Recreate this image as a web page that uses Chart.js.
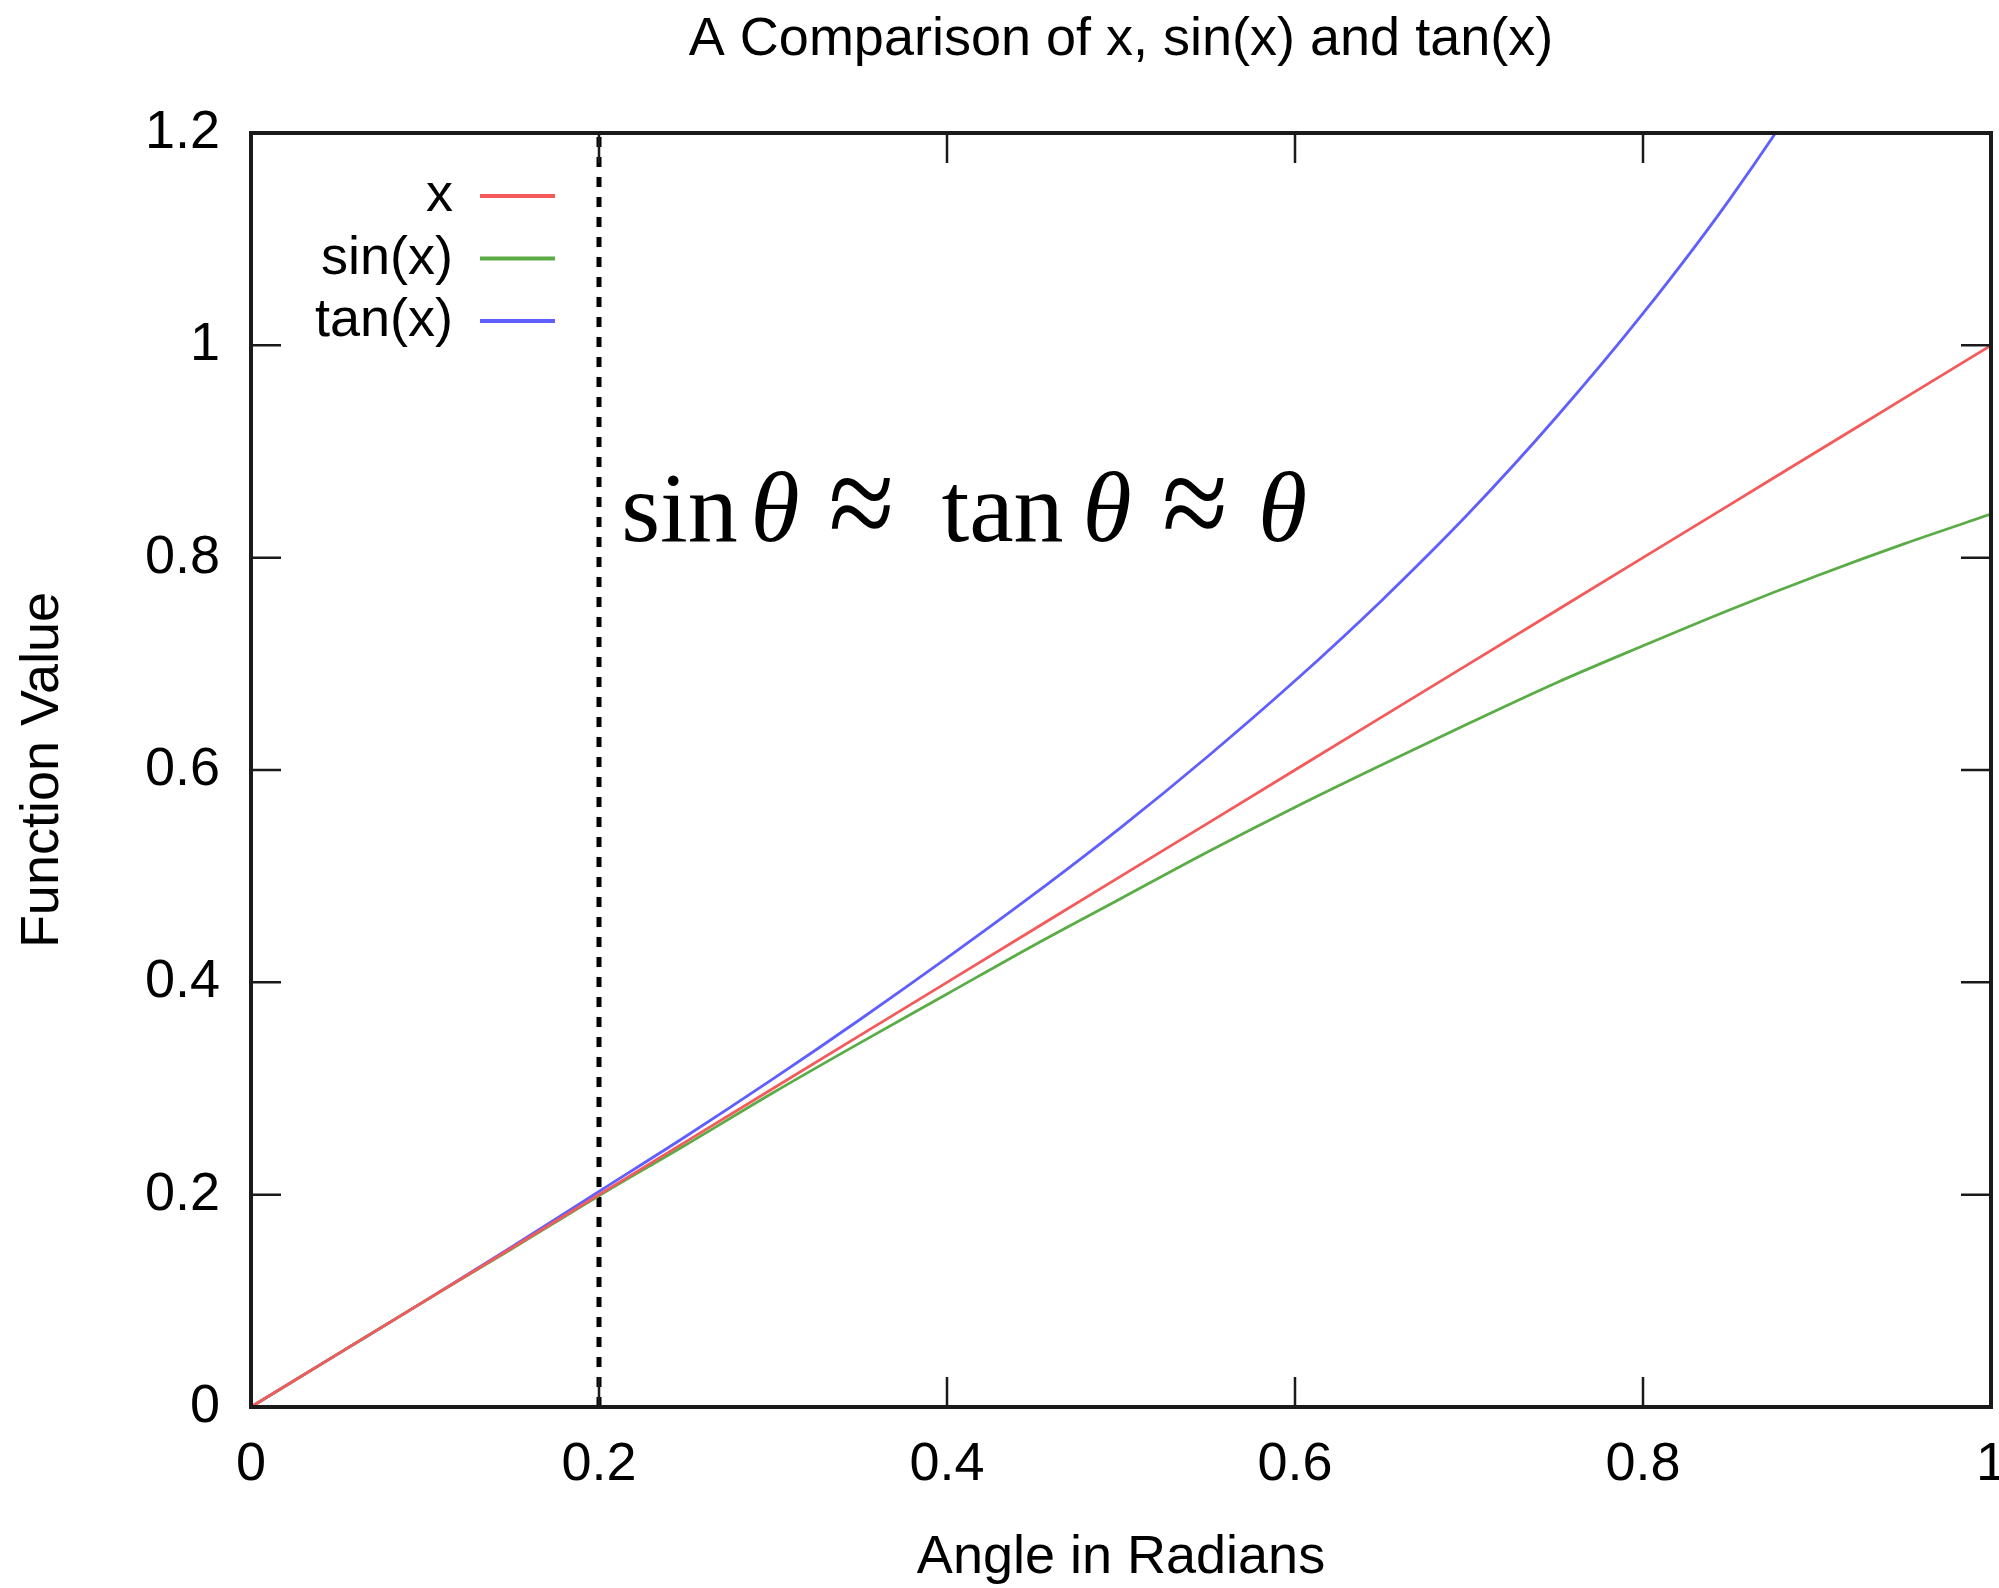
<!DOCTYPE html>
<html>
<head>
<meta charset="utf-8">
<script src="https://cdn.jsdelivr.net/npm/chart.js@4.4.1/dist/chart.umd.min.js"></script>
<style>
  html, body { margin: 0; padding: 0; background: #fff; overflow: hidden; }
  #wrap { position: relative; width: 1999px; height: 1588px; }
</style>
</head>
<body>
<div id="wrap"><canvas id="chart"></canvas></div>
<script>
const angles = [0, 0.05, 0.1, 0.15, 0.2, 0.25, 0.3, 0.35, 0.4, 0.45, 0.5,
                0.55, 0.6, 0.65, 0.7, 0.75, 0.8, 0.85, 0.9, 0.95, 1];
const xValues = [0, 0.05, 0.1, 0.15, 0.2, 0.25, 0.3, 0.35, 0.4, 0.45, 0.5,
                 0.55, 0.6, 0.65, 0.7, 0.75, 0.8, 0.85, 0.9, 0.95, 1];
const sinValues = [0, 0.050, 0.100, 0.149, 0.199, 0.247, 0.296, 0.343, 0.389, 0.435, 0.479,
                   0.523, 0.565, 0.605, 0.644, 0.682, 0.717, 0.751, 0.783, 0.813, 0.841];
const tanValues = [0, 0.050, 0.100, 0.151, 0.203, 0.255, 0.309, 0.365, 0.423, 0.483, 0.546,
                   0.613, 0.684, 0.760, 0.842, 0.932, 1.030, 1.138, 1.260, 1.398, 1.557];
const markerAngle = [0.2, 0.2];
const markerValues = [0, 1.2];

const seriesLabels = ["x", "sin(x)", "tan(x)"];
const xTickLabels = ["0", "0.2", "0.4", "0.6", "0.8", "1"];
const yTickLabels = ["0", "0.2", "0.4", "0.6", "0.8", "1", "1.2"];
const noteParts = ["sin", "θ", "≈", "tan", "θ", "≈", "θ"];

const SANS = "'Liberation Sans', Arial, Helvetica, sans-serif";
const SERIF = "'Liberation Serif', 'Times New Roman', serif";
const RED = "rgb(245,90,90)";
const GREEN = "rgb(90,172,70)";
const BLUE = "rgb(95,95,255)";
const TICK_LEN = 30;

const pts = (xs, ys) => xs.map((v, i) => ({ x: v, y: ys[i] }));

// gnuplot style box with inward ticks on every side
const frameTicks = {
    id: "frameTicks",
    afterDatasetsDraw(chart) {
        const { ctx, chartArea: a, scales: { x, y } } = chart;
        ctx.save();
        ctx.strokeStyle = "#1a1a1a";
        ctx.lineWidth = 2.5;
        ctx.beginPath();
        x.ticks.forEach(t => {
            const px = x.getPixelForValue(t.value);
            ctx.moveTo(px, a.bottom); ctx.lineTo(px, a.bottom - TICK_LEN);
            ctx.moveTo(px, a.top); ctx.lineTo(px, a.top + TICK_LEN);
        });
        y.ticks.forEach(t => {
            const py = y.getPixelForValue(t.value);
            ctx.moveTo(a.left, py); ctx.lineTo(a.left + TICK_LEN, py);
            ctx.moveTo(a.right, py); ctx.lineTo(a.right - TICK_LEN, py);
        });
        ctx.stroke();
        ctx.lineWidth = 4;
        ctx.strokeRect(a.left, a.top, a.right - a.left, a.bottom - a.top);
        ctx.restore();
    },
};

// legend inside the plot: label on the left, line sample on the right
const boxLegend = {
    id: "boxLegend",
    afterDraw(chart) {
        const { ctx, chartArea: a } = chart;
        ctx.save();
        ctx.font = `54px ${SANS}`;
        ctx.fillStyle = "#000";
        ctx.textAlign = "right";
        ctx.textBaseline = "alphabetic";
        seriesLabels.forEach((label, i) => {
            const rowY = a.top + 63 + i * 62.5;
            ctx.fillText(label, a.left + 202, rowY + 15);
            ctx.strokeStyle = chart.data.datasets[i].borderColor;
            ctx.lineWidth = 4;
            ctx.beginPath();
            ctx.moveTo(a.left + 229, rowY);
            ctx.lineTo(a.left + 304, rowY);
            ctx.stroke();
        });
        ctx.restore();
    },
};

// sin θ ≈ tan θ ≈ θ next to the marker line
const mathNote = {
    id: "mathNote",
    afterDraw(chart) {
        const { ctx, scales: { x, y } } = chart;
        const left = x.getPixelForValue(markerAngle[0]) + 23;
        const base = y.getPixelForValue(0.8) - 17;
        const centers = [57.5, 153, 239.5, 380.5, 485, 573, 660.5];
        ctx.save();
        ctx.fillStyle = "#000";
        ctx.textAlign = "center";
        noteParts.forEach((p, i) => {
            if (p === "≈") {
                // bigger relation sign, closer to the TeX one
                ctx.save();
                ctx.translate(left + centers[i], base - 28);
                ctx.scale(1, 1.15);
                ctx.font = `120px ${SERIF}`;
                ctx.textBaseline = "middle";
                ctx.fillText(p, 0, 0);
                ctx.restore();
                return;
            }
            ctx.textBaseline = "alphabetic";
            ctx.font = (p === "θ" ? "italic " : "") + `100px ${SERIF}`;
            ctx.fillText(p, left + centers[i], base);
        });
        ctx.restore();
    },
};

const tickFont = { family: SANS, size: 54, lineHeight: 1.2 };

new Chart(document.getElementById("chart"), {
    type: "line",
    data: {
        datasets: [
            { label: seriesLabels[0], data: pts(angles, xValues), borderColor: RED },
            { label: seriesLabels[1], data: pts(angles, sinValues), borderColor: GREEN },
            { label: seriesLabels[2], data: pts(angles, tanValues), borderColor: BLUE },
            {
                label: "marker",
                data: pts(markerAngle, markerValues),
                borderColor: "#000",
                borderWidth: 5,
                borderDash: [10, 10],
                cubicInterpolationMode: "default",
            },
        ],
    },
    options: {
        responsive: true,
        maintainAspectRatio: false,
        animation: false,
        events: [],
        layout: { padding: { left: 0, right: 8, top: 0, bottom: 0 } },
        elements: {
            point: { radius: 0 },
            line: { borderWidth: 2.8, cubicInterpolationMode: "monotone", fill: false },
        },
        datasets: { line: { clip: 0 } },
        plugins: {
            legend: { display: false },
            tooltip: { enabled: false },
            title: {
                display: true,
                fullSize: false,
                text: "A Comparison of x, sin(x) and tan(x)",
                color: "#000",
                font: { family: SANS, size: 54, weight: "normal", lineHeight: 1.2 },
                padding: { top: 7.6, bottom: 60.6 },
            },
        },
        scales: {
            x: {
                type: "linear",
                min: 0,
                max: 1,
                grid: { display: false, drawTicks: false },
                border: { display: false },
                ticks: {
                    stepSize: 0.2,
                    padding: 26,
                    color: "#000",
                    font: tickFont,
                    maxRotation: 0,
                    autoSkip: false,
                    callback: (v, i) => xTickLabels[i],
                },
                title: {
                    display: true,
                    text: "Angle in Radians",
                    color: "#000",
                    font: { family: SANS, size: 54, lineHeight: 1.1 },
                    padding: { top: 0, bottom: 0 },
                },
                afterFit: (s) => { s.height = 181; s.paddingLeft = 0; s.paddingRight = 0; },
            },
            y: {
                type: "linear",
                min: 0,
                max: 1.2,
                grid: { display: false, drawTicks: false },
                border: { display: false },
                ticks: {
                    stepSize: 0.2,
                    padding: 31,
                    color: "#000",
                    font: tickFont,
                    autoSkip: false,
                    callback: (v, i) => yTickLabels[i],
                },
                title: {
                    display: true,
                    text: "Function Value",
                    color: "#000",
                    font: { family: SANS, size: 54, lineHeight: 1.2 },
                    padding: { top: 10.6, bottom: 0 },
                },
                afterFit: (s) => { s.width = 251; s.paddingTop = 0; s.paddingBottom = 0; },
            },
        },
    },
    plugins: [frameTicks, mathNote, boxLegend],
});
</script>
</body>
</html>
